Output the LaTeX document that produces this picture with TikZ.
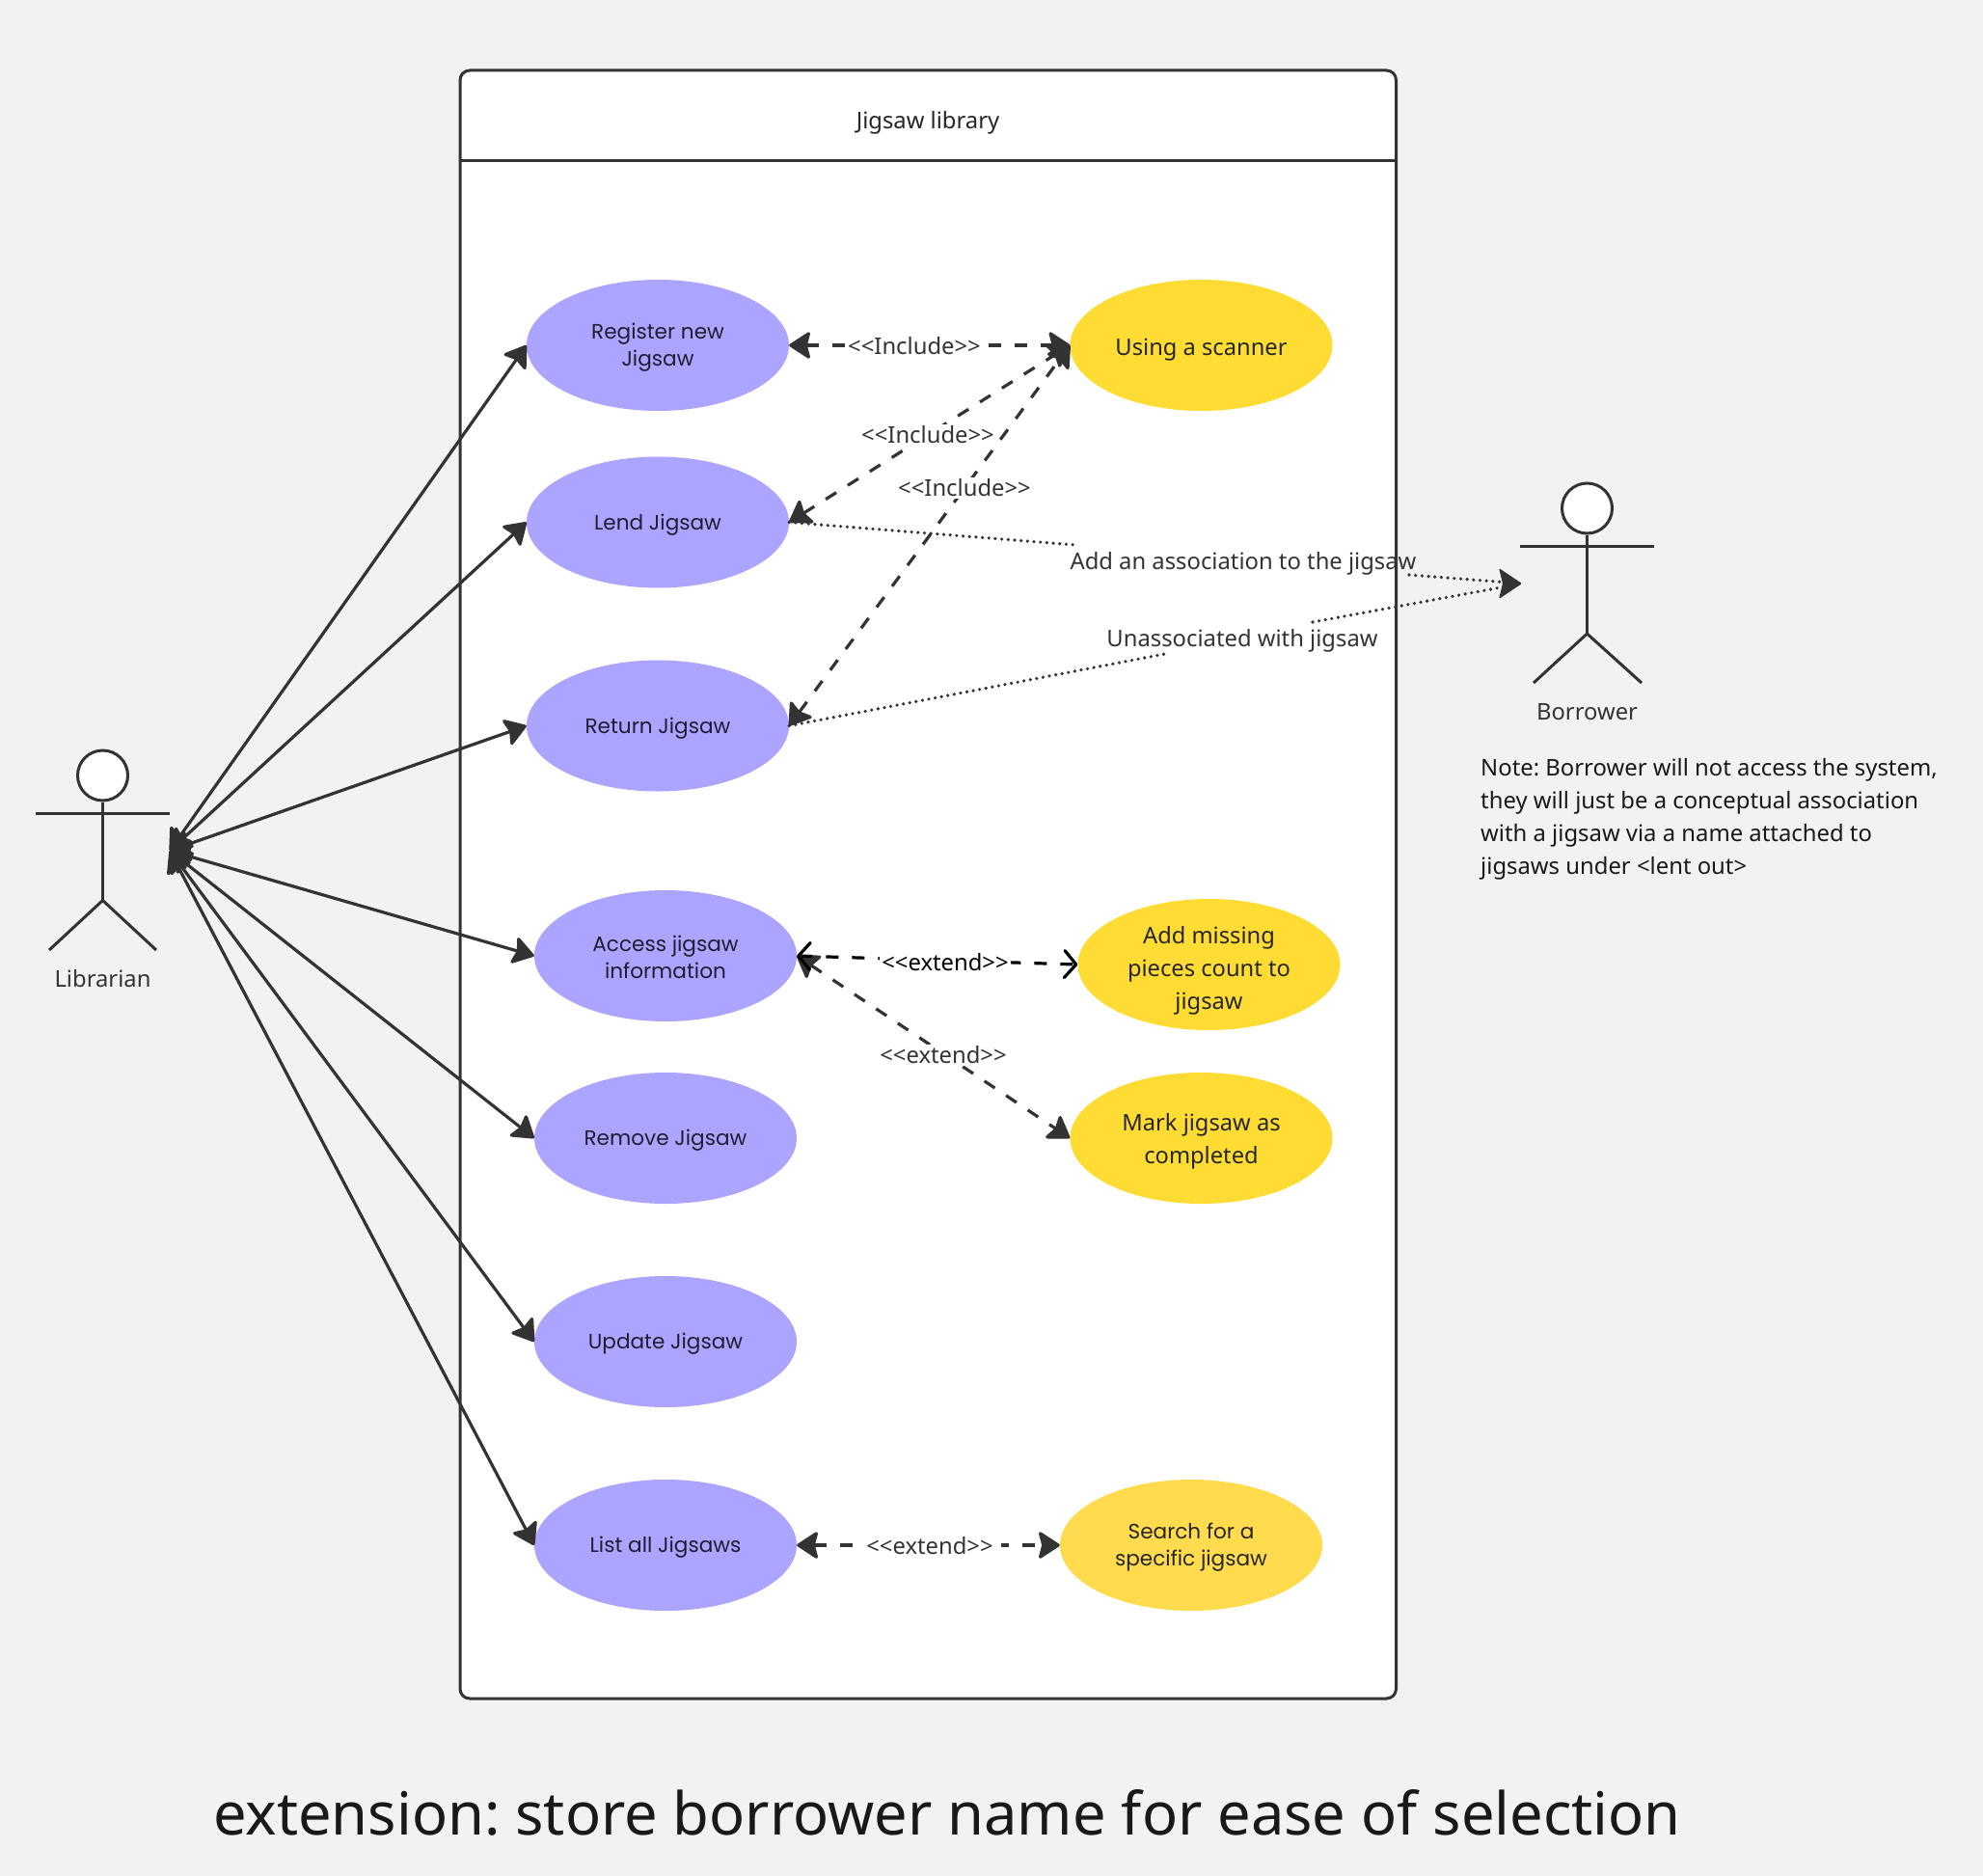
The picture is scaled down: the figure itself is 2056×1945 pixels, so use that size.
\documentclass[tikz,border=0pt]{standalone}
\usepackage{fontspec}
\setmainfont{Noto Sans}
\newfontfamily\geofont{Poppins}
\usetikzlibrary{shapes.geometric,arrows.meta}
\AtBeginDocument{\frenchspacing}
\definecolor{pagebg}{HTML}{F2F2F2}
\definecolor{ink}{HTML}{333333}
\definecolor{usepurple}{HTML}{ABA5FF}
\definecolor{useyellow}{HTML}{FFDC33}
\definecolor{softyellow}{HTML}{FFDB4D}
\definecolor{navyink}{HTML}{1E1E32}
\newcommand{\topstrut}[1]{\rule{0pt}{#1pt}}
\tikzset{
  usecase/.style={ellipse,minimum width=272pt,minimum height=136pt,inner sep=0pt,align=center},
  purplecase/.style={usecase,fill=usepurple,text=navyink,font=\geofont\fontsize{21.6}{27.5}\selectfont},
  yellowcase/.style={usecase,fill=useyellow,text=black!85,font=\fontsize{23.7}{34}\selectfont},
  softcase/.style={usecase,fill=softyellow,text=black!85,font=\geofont\fontsize{21.6}{27.5}\selectfont},
  conn/.style={draw=ink,line width=3.2pt},
  bihead/.style={{Stealth[length=24pt,width=31pt,inset=4pt,round]}-{Stealth[length=24pt,width=31pt,inset=4pt,round]}},
  solidlink/.style={conn,bihead},
  dashlink/.style={conn,bihead,dash pattern=on 13pt off 14pt},
  dotlink/.style={draw=ink,line width=3.6pt,line cap=round,dash pattern=on 0pt off 6.7pt},
  openlink/.style={draw=black,line width=3.2pt,dash pattern=on 13pt off 14pt,{Straight Barb[length=12pt,width=28pt,round]}-{Straight Barb[length=12pt,width=28pt,round]}},
  linklabel/.style={fill=white,inner sep=2pt,text=ink,font=\fontsize{23.8}{27}\selectfont},
  plainlabel/.style={text=ink,inner sep=0pt,font=\fontsize{23.8}{27}\selectfont},
  actorline/.style={draw=ink,line width=3pt},
  actorhead/.style={circle,draw=ink,fill=white,line width=3pt,minimum size=52pt,inner sep=0pt},
}
\begin{document}
\begin{tikzpicture}[x=1pt,y=-1pt]
\useasboundingbox (0,0) rectangle (2056,1945);
\fill[pagebg] (0,0) rectangle (2056,1945);

% system frame fill
\fill[white,rounded corners=10pt] (477,73) rectangle (1447.5,1761);

% use cases
\node[purplecase] (reg) at (682,358) {\topstrut{21}Register new\\Jigsaw};
\node[purplecase] (lend) at (682,541.5) {\topstrut{21}Lend Jigsaw};
\node[purplecase] (ret) at (682,752.5) {\topstrut{21}Return Jigsaw};
\node[purplecase] (acc) at (690,991) {\topstrut{19}Access jigsaw\\information};
\node[purplecase] (rem) at (690,1180) {\topstrut{21}Remove Jigsaw};
\node[purplecase] (upd) at (690,1391) {\topstrut{21}Update Jigsaw};
\node[purplecase] (lst) at (690,1602) {\topstrut{21}List all Jigsaws};
\node[yellowcase] (scan) at (1245.5,358) {\topstrut{26}Using a scanner};
\node[yellowcase,inner ysep=-14pt] (miss) at (1253.5,1000) {\topstrut{31}Add missing\\pieces count to\\jigsaw};
\node[yellowcase] (mark) at (1245.5,1180) {\topstrut{24}Mark jigsaw as\\completed};
\node[softcase] (srch) at (1235,1602) {\topstrut{21}Search for a\\specific jigsaw};

% actors
\node[actorhead] (libhead) at (106.5,804) {};
\coordinate (libarmL) at (37,843);
\coordinate (libarmR) at (176,843);
\coordinate (libhip) at (106.5,933.5);
\coordinate (liblegL) at (51,985);
\coordinate (liblegR) at (162,985);
\coordinate (libport) at (176,882);
\draw[actorline] (libhead.south) -- (libhip);
\draw[actorline] (libarmL) -- (libarmR);
\draw[actorline] (liblegL) -- (libhip) -- (liblegR);
\node[plainlabel] (liblabel) at (106.5,1015) {Librarian};

\node[actorhead] (borhead) at (1645.5,527) {};
\coordinate (borarmL) at (1576,566.5);
\coordinate (borarmR) at (1715,566.5);
\coordinate (borhip) at (1645.5,657);
\coordinate (borlegL) at (1590,708);
\coordinate (borlegR) at (1702,708);
\coordinate (borport) at (1578,605);
\draw[actorline] (borhead.south) -- (borhip);
\draw[actorline] (borarmL) -- (borarmR);
\draw[actorline] (borlegL) -- (borhip) -- (borlegR);
\node[plainlabel] (borlabel) at (1645.5,738) {Borrower};

% librarian associations
\draw[solidlink] (libport) -- (reg.west);
\draw[solidlink] (libport) -- (lend.west);
\draw[solidlink] (libport) -- (ret.west);
\draw[solidlink] (libport) -- (acc.west);
\draw[solidlink] (libport) -- (rem.west);
\draw[solidlink] (libport) -- (upd.west);
\draw[solidlink] (libport) -- (lst.west);

% dotted borrower links, broken around their labels
\coordinate (addL) at (1115,565);
\coordinate (addR) at (1461,596);
\coordinate (unaL) at (1213,677);
\coordinate (unaR) at (1361,645);
\draw[dotlink] (lend.east) -- (addL);
\draw[dotlink] (addR) -- (borport);
\draw[dotlink] (ret.east) -- (unaL);
\draw[dotlink] (unaR) -- (borport);
\fill[ink,rounded corners=1.5pt] (borport) -- ++(-24,-16) -- ++(4,16) -- ++(-4,16) -- cycle;

% dashed links
\draw[dashlink] (reg.east) -- (scan.west);
\node[linklabel] (la) at (948,359) {<{}<Include>{}>};
\draw[dashlink] (lend.east) -- (scan.west);
\node[linklabel] (lb) at (962,451) {<{}<Include>{}>};
\draw[dashlink] (ret.east) -- (scan.west);
\node[linklabel] (lc) at (1000,506) {<{}<Include>{}>};
\draw[dashlink] (acc.east) -- (mark.west);
\node[linklabel] (ld) at (978,1094) {<{}<extend>{}>};
\draw[openlink] (acc.east) -- (miss.west);
\node[linklabel,text=black] (le) at (980,998) {<{}<extend>{}>};
\draw[dashlink] (lst.east) -- (srch.west);
\node[linklabel,inner xsep=8pt] (lf) at (964,1603) {<{}<extend>{}>};

% frame outline on top
\draw[ink,line width=3pt,rounded corners=10pt] (477,73) rectangle (1447.5,1761);
\coordinate (hdrL) at (477,166.5);
\coordinate (hdrR) at (1447.5,166.5);
\draw[ink,line width=3pt] (hdrL) -- (hdrR);
\node[plainlabel,text=black!85] (title) at (962,127) {Jigsaw library};

\node[plainlabel] (addlab) at (1289,584.5) {Add an association to the jigsaw};
\node[plainlabel] (unalab) at (1288,664.5) {Unassociated with jigsaw};

\node[anchor=north west,align=left,inner sep=0pt,text=black!90,font=\fontsize{23.85}{33.8}\selectfont] (note) at (1535,786.5) {Note: Borrower will not access the system,\\they will just be a conceptual association\\with a jigsaw via a name attached to\\jigsaws under <lent out>};

\node[text=black!90,inner sep=0pt,font=\fontsize{61.4}{76}\selectfont] (ext) at (982,1879) {extension: store borrower name for ease of selection};
\end{tikzpicture}
\end{document}
